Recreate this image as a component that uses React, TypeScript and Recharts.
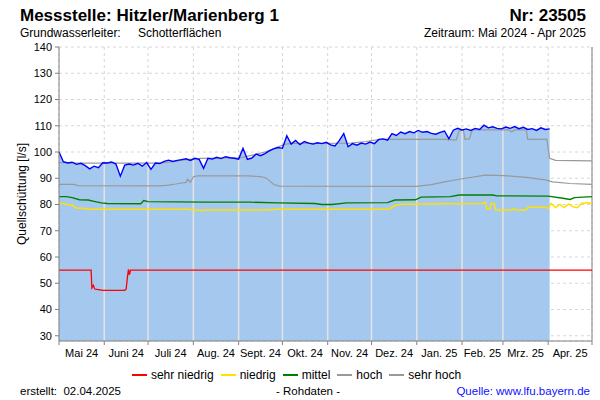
import React from 'react';
import { ComposedChart, Area, Line, XAxis, YAxis, CartesianGrid, ReferenceLine, Legend } from 'recharts';

// Tage ab 1. Mai 2024
const monthStarts = [0, 31, 61, 92, 123, 153, 184, 214, 245, 276, 304, 335, 365];
const monthLabels = ['Mai 24', 'Juni 24', 'Juli 24', 'Aug. 24', 'Sept. 24', 'Okt. 24', 'Nov. 24', 'Dez. 24', 'Jan. 25', 'Feb. 25', 'Mrz. 25', 'Apr. 25'];
const yTicks = [30, 40, 50, 60, 70, 80, 90, 100, 110, 120, 130, 140];

// Messwerte alle 3 Tage [l/s]
const BLUE_STEP = 3;
const messwerte = [
  100, 96.3, 95.8, 96.1, 95.3, 95.7, 94.8, 93.6, 94.6, 94.0,
  95.9, 95.8, 96.2, 95.4, 90.8, 95.0, 95.4, 95.0, 95.7, 94.6,
  96.0, 93.4, 95.8, 95.6, 96.4, 96.9, 96.4, 96.8, 97.1, 97.4,
  96.8, 97.6, 97.2, 93.8, 97.6, 97.3, 98.0, 97.5, 98.2, 97.8,
  97.6, 97.3, 101.4, 97.2, 97.7, 99.2, 98.6, 99.4, 100.4, 101.2,
  101.7, 101.4, 106.2, 103.0, 104.4, 102.8, 104.0, 103.4, 103.0, 103.5,
  103.2, 103.7, 102.7, 102.3, 104.4, 107.0, 102.0, 103.2, 102.6, 103.4,
  103.0, 103.8, 103.2, 104.8, 105.0, 104.5, 107.0, 106.3, 107.6, 107.0,
  107.8, 107.3, 108.2, 107.5, 107.8, 107.1, 106.8, 107.5, 108.0, 105.0,
  108.3, 109.0, 108.4, 108.8, 108.2, 109.0, 108.6, 110.2, 109.2, 109.6,
  109.0, 108.8, 109.5, 109.0, 109.7, 108.9, 109.4, 108.6, 108.9, 108.2,
  109.2, 108.6, 108.8,
];

// Kennwerte [Tag, l/s]
const sehrNiedrig: [number, number][] = [
  [0, 55], [22, 55], [22.5, 48.2], [23.5, 49.2], [24.5, 47.8], [27, 47.6], [30, 47.3], [45, 47.3],
  [46, 47.8], [47, 53], [47.6, 55.3], [48.2, 53.2], [49, 55], [365, 55],
];
const niedrig: [number, number][] = [
  [0, 80.4], [3, 80.4], [6, 80.0], [9, 79.8], [12, 78.6], [17, 78.6], [20, 78.2], [88, 78.2],
  [92, 77.9], [95, 77.9], [97, 77.6], [100, 77.9], [140, 77.9], [150, 78.2], [226, 78.2], [230, 79.6],
  [235, 80.1], [264, 80.3], [290, 80.4], [292, 80.9], [293, 78.3], [295, 78.3], [296, 80.4], [298, 80.4],
  [299, 77.9], [310, 77.9], [312, 78.4], [314, 77.9], [320, 77.9], [321, 79.0], [333, 79.0], [335, 78.5],
  [337, 80.4], [340, 78.8], [343, 80.0], [346, 78.8], [349, 80.2], [352, 79.1], [355, 78.8], [358, 80.5],
  [362, 80.7], [365, 80.4],
];
const mittel: [number, number][] = [
  [0, 83], [5, 83], [9, 82.6], [14, 81.8], [20, 81.7], [24, 81.2], [29, 80.6], [33, 80.4],
  [56, 80.3], [58, 81.5], [61, 81.1], [100, 80.9], [130, 80.9], [150, 80.6], [175, 80.4], [180, 80.0],
  [187, 80.0], [197, 80.6], [225, 80.7], [230, 81.7], [244, 81.8], [248, 82.8], [268, 83.0], [274, 83.6],
  [297, 83.6], [300, 83.3], [335, 83.2], [345, 82.4], [350, 81.9], [353, 82.6], [365, 83.0],
];
const hoch: [number, number][] = [
  [0, 87.7], [10, 87.7], [13, 87.2], [69, 87.1], [75, 87.4], [80, 87.8], [84, 88.2], [87, 88.4],
  [88, 89.7], [90, 88.5], [92, 90.6], [95, 90.9], [130, 90.9], [138, 90.6], [141, 90.3], [144, 89.2],
  [147, 87.6], [151, 87.0], [245, 86.9], [255, 87.6], [264, 88.6], [276, 89.8], [292, 91.2], [305, 91.0],
  [320, 90.3], [333, 89.4], [338, 88.6], [350, 88.0], [365, 87.7],
];
const sehrHoch: [number, number][] = [
  [0, 96], [12, 95.8], [69, 95.8], [76, 96.2], [86, 97], [97, 97.6], [124, 97.8], [134, 99],
  [141, 100], [148, 101.5], [155, 103], [160, 103.3], [200, 103.4], [210, 104], [220, 104.8], [265, 104.8],
  [272, 104.5], [274, 108.2], [277, 108.2], [278, 104.8], [281, 105], [283, 108.4], [308, 108.4], [310, 107.6],
  [312, 108.4], [320, 108.4], [321, 104.8], [334, 104.8], [336, 97.6], [340, 96.8], [365, 96.6],
];

const FONT = '"Liberation Sans", Arial, sans-serif';
const MARGIN = { top: 47, right: 8, bottom: 39, left: 0 };
const Y_AXIS_W = 59;
const PX_PER_DAY = (600 - Y_AXIS_W - MARGIN.left - MARGIN.right) / 365;

const thresholds = [
  { name: 'sehr niedrig', data: sehrNiedrig, color: '#FF0000', w: 1.3 },
  { name: 'niedrig', data: niedrig, color: '#FFE000', w: 1.5 },
  { name: 'mittel', data: mittel, color: '#008000', w: 1.4 },
  { name: 'hoch', data: hoch, color: '#999999', w: 1.2 },
  { name: 'sehr hoch', data: sehrHoch, color: '#999999', w: 1.2 },
];

const toPoints = (pairs: [number, number][]) => pairs.map(([d, v]) => ({ d, v }));
const bluePts = messwerte.map((v, i) => ({ d: i * BLUE_STEP, v }));

if (typeof document !== 'undefined') document.body.style.margin = '0';

function MonthTick(props: any) {
  const { x, y, payload } = props;
  const i = monthStarts.indexOf(payload.value);
  if (i < 0 || i >= monthLabels.length) return null;
  const w = (monthStarts[i + 1] - monthStarts[i]) * PX_PER_DAY;
  return (
    <text x={x + w / 2} y={y} dy={10} textAnchor="middle" fontSize={11} fill="#000" fontFamily={FONT}>
      {monthLabels[i]}
    </text>
  );
}

function LegendContent(props: any) {
  const names: string[] = (props.payload || []).map((e: any) => e.value);
  const items = thresholds.filter((t) => names.includes(t.name));
  return (
    <div style={{ display: 'flex', justifyContent: 'center', fontSize: 12, lineHeight: '12px', fontFamily: FONT }}>
      {items.map((t) => (
        <span key={t.name} style={{ display: 'flex', alignItems: 'center', marginRight: 7 }}>
          <span style={{ display: 'inline-block', width: 15, height: 1.5, background: t.color, marginRight: 4 }} />
          {t.name}
        </span>
      ))}
    </div>
  );
}

const abs = (style: React.CSSProperties): React.CSSProperties => ({ position: 'absolute', lineHeight: 1, whiteSpace: 'pre', ...style });

export default function App() {
  return (
    <div style={{ position: 'relative', width: 600, height: 400, fontFamily: FONT, background: '#fff', color: '#000' }}>
      <div style={abs({ left: 20, top: 7, fontSize: 17, fontWeight: 'bold' })}>Messstelle: Hitzler/Marienberg 1</div>
      <div style={abs({ right: 14, top: 7, fontSize: 17, fontWeight: 'bold' })}>Nr: 23505</div>
      <div style={abs({ left: 20, top: 27, fontSize: 12 })}>Grundwasserleiter:</div>
      <div style={abs({ left: 138, top: 27, fontSize: 12 })}>Schotterflächen</div>
      <div style={abs({ right: 14, top: 27, fontSize: 12 })}>Zeitraum: Mai 2024 - Apr 2025</div>
      <div style={abs({ left: 22 - 100, top: 194 - 6, width: 200, textAlign: 'center', fontSize: 12, transform: 'rotate(-90deg)' })}>
        Quellschüttung [l/s]
      </div>

      <ComposedChart width={600} height={400} margin={MARGIN} style={{ position: 'absolute', left: 0, top: 0 }}>
        <CartesianGrid strokeDasharray="3 3" stroke="#D6D6D6" />
        <XAxis
          type="number"
          dataKey="d"
          domain={[0, 365]}
          ticks={monthStarts}
          interval={0}
          tick={MonthTick}
          tickSize={4}
          height={20}
          axisLine={{ stroke: '#808080' }}
          tickLine={{ stroke: '#808080' }}
        />
        <YAxis
          type="number"
          domain={[28, 140]}
          ticks={yTicks}
          allowDataOverflow
          width={Y_AXIS_W}
          tickSize={4}
          tickMargin={3}
          axisLine={{ stroke: '#808080' }}
          tickLine={{ stroke: '#808080' }}
          tick={{ fontSize: 11, fill: '#000', fontFamily: FONT }}
        />
        <Area
          data={bluePts}
          dataKey="v"
          type="linear"
          stroke="none"
          fill="#A5C8EE"
          fillOpacity={1}
          legendType="none"
          isAnimationActive={false}
        />
        {monthStarts.slice(1, 11).map((d) => (
          <ReferenceLine
            key={d}
            segment={[{ x: d, y: 28 }, { x: d, y: messwerte[Math.round(d / BLUE_STEP)] }]}
            stroke="#E2E2E2"
            strokeWidth={1.6}
          />
        ))}
        <ReferenceLine x={365} stroke="#808080" />
        {thresholds.map((t) => (
          <Line
            key={t.name}
            data={toPoints(t.data)}
            dataKey="v"
            name={t.name}
            type="linear"
            stroke={t.color}
            strokeWidth={t.w}
            dot={false}
            isAnimationActive={false}
          />
        ))}
        <Line
          data={bluePts}
          dataKey="v"
          type="linear"
          stroke="#0000FF"
          strokeWidth={1.4}
          dot={false}
          legendType="none"
          isAnimationActive={false}
        />
        <Legend
          layout="horizontal"
          verticalAlign="middle"
          align="center"
          content={LegendContent}
          wrapperStyle={{ left: 0, top: 369, width: 600 }}
        />
      </ComposedChart>

      <div style={abs({ left: 20, top: 386, fontSize: 11.5 })}>erstellt:  02.04.2025</div>
      <div style={abs({ left: 308 - 50, top: 386, width: 100, textAlign: 'center', fontSize: 11.5 })}>- Rohdaten -</div>
      <div style={abs({ right: 10, top: 386, fontSize: 11.5, color: '#1010FF' })}>Quelle: www.lfu.bayern.de</div>
    </div>
  );
}
